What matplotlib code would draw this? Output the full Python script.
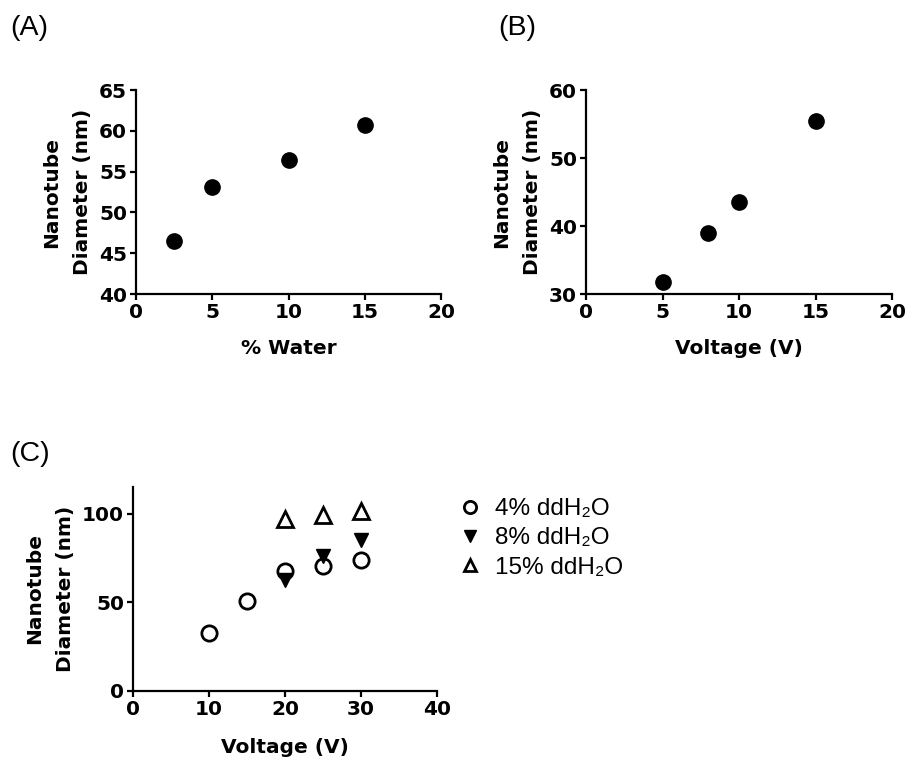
import matplotlib
matplotlib.use("Agg")
import matplotlib.pyplot as plt

plt.rcParams['font.family'] = ['Liberation Sans', 'DejaVu Sans']

# panel A
water_pct = [2.5, 5, 10, 15]
diam_water = [46.5, 53.1, 56.4, 60.7]

# panel B
voltage_b = [5, 8, 10, 15]
diam_voltage = [31.8, 38.9, 43.6, 55.5]

# panel C
volt_4 = [10, 15, 20, 25, 30]
diam_4 = [32.6, 50.9, 67.5, 70.3, 74.1]
volt_8 = [20, 25, 30]
diam_8 = [62.8, 76.0, 84.9]
volt_15 = [20, 25, 30]
diam_15 = [97.1, 99.4, 101.5]

W, H = 906, 759
fig = plt.figure(figsize=(W / 100, H / 100), dpi=100)

# wide bold face for the axis text
BOLD = dict(family='DejaVu Sans', fontweight='bold', fontsize=14.5)


def box(l, t, r, b):
    # pixel box -> figure fraction
    return [l / W, 1 - b / H, (r - l) / W, (b - t) / H]


def style(ax):
    for s in ['top', 'right']:
        ax.spines[s].set_visible(False)
    for s in ['left', 'bottom']:
        ax.spines[s].set_linewidth(1.6)
    ax.tick_params(direction='out', length=4.5, width=1.6, pad=2)
    for lab in ax.get_xticklabels() + ax.get_yticklabels():
        lab.set_fontfamily('DejaVu Sans')
        lab.set_fontweight('bold')
        lab.set_fontsize(14.5)


ylab = 'Nanotube\nDiameter (nm)'

# (A)
ax1 = fig.add_axes(box(136, 90, 441, 294))
ax1.plot(water_pct, diam_water, 'o', color='black', ms=11, clip_on=False)
ax1.set_xlim(0, 20)
ax1.set_ylim(40, 65)
ax1.set_xticks([0, 5, 10, 15, 20])
ax1.set_yticks([40, 45, 50, 55, 60, 65])
style(ax1)
ax1.set_xlabel('% Water', labelpad=12, **BOLD)
ax1.set_ylabel(ylab, labelpad=5, linespacing=1.8, **BOLD)

# (B)
ax2 = fig.add_axes(box(586, 90, 892, 294))
ax2.plot(voltage_b, diam_voltage, 'o', color='black', ms=11, clip_on=False)
ax2.set_xlim(0, 20)
ax2.set_ylim(30, 60)
ax2.set_xticks([0, 5, 10, 15, 20])
ax2.set_yticks([30, 40, 50, 60])
style(ax2)
ax2.set_xlabel('Voltage (V)', labelpad=12, **BOLD)
ax2.set_ylabel(ylab, labelpad=5, linespacing=1.8, **BOLD)

# (C)
ax3 = fig.add_axes(box(133, 487, 437, 691))
ax3.plot(volt_4, diam_4, 'o', mfc='white', mec='black', mew=2, ms=11, label='4% ddH₂O', zorder=2)
ax3.plot(volt_8, diam_8, 'v', color='black', ms=10, label='8% ddH₂O', zorder=3)
ax3.plot(volt_15, diam_15, '^', mfc='white', mec='black', mew=2, ms=11, label='15% ddH₂O', zorder=3)
ax3.set_xlim(0, 40)
ax3.set_ylim(0, 115)
ax3.set_xticks([0, 10, 20, 30, 40])
ax3.set_yticks([0, 50, 100])
style(ax3)
ax3.set_xlabel('Voltage (V)', labelpad=14, **BOLD)
ax3.set_ylabel(ylab, labelpad=5, linespacing=1.8, **BOLD)
ax3.legend(loc='upper left', bbox_to_anchor=(446 / W, 1 - 486 / H), bbox_transform=fig.transFigure,
           frameon=False, prop={'family': ['Liberation Sans', 'DejaVu Sans'], 'size': 17.5},
           handlelength=1.0, handletextpad=0.5, labelspacing=0.3, borderpad=0, markerscale=0.8)

# panel letters
fig.text(10 / W, 1 - 15 / H, '(A)', fontsize=20.5, va='top', ha='left')
fig.text(498 / W, 1 - 15 / H, '(B)', fontsize=20.5, va='top', ha='left')
fig.text(10 / W, 1 - 441 / H, '(C)', fontsize=20.5, va='top', ha='left')

fig.savefig('out.png', dpi=100)
